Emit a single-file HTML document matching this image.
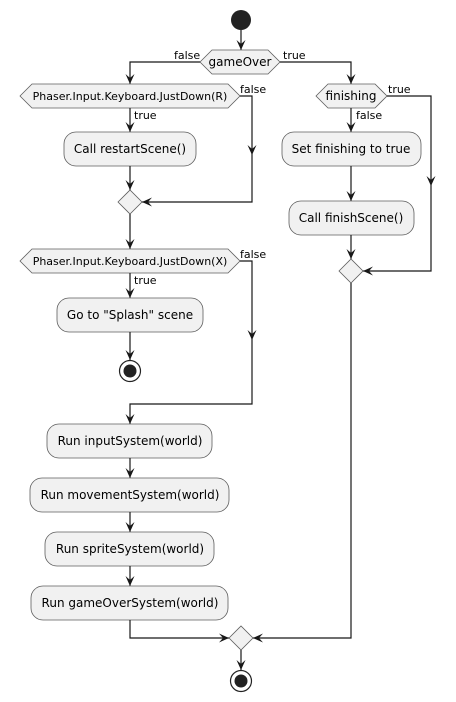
<!DOCTYPE html>
<html><head><meta charset="utf-8"><style>
html,body{margin:0;padding:0;background:#fff;}
svg{display:block;}
text{font-family:"DejaVu Sans","Liberation Sans",sans-serif;fill:#000;}
.b{fill:#F1F1F1;stroke:#5E5E5E;stroke-width:0.8;}
.l{stroke:#181818;stroke-width:1.2;fill:none;}
.t{font-size:12px;text-anchor:middle;}
.s{font-size:11px;}
</style></head><body>
<svg width="456" height="702" viewBox="0 0 456 702" xmlns="http://www.w3.org/2000/svg">
<defs>
<g id="ad"><polygon points="0,0 -4.5,-10 0,-6 4.5,-10" fill="#181818"/></g>
<g id="ar"><polygon points="0,0 10,-4.5 6,0 10,4.5" fill="#181818"/></g>
</defs>
<circle cx="241" cy="20" r="10" fill="#222"/>
<line class="l" x1="241" y1="30" x2="241" y2="50"/><use href="#ad" x="241" y="50"/>
<polygon class="b" points="200,62 212,50 268,50 280,62 268,74 212,74"/>
<text class="t" x="240" y="66">gameOver</text>
<text class="s" x="174" y="59">false</text>
<text class="s" x="283" y="59">true</text>
<polyline class="l" points="200,62 130,62 130,84"/><use href="#ad" x="130" y="84"/>
<polyline class="l" points="280,62 351,62 351,84"/><use href="#ad" x="351" y="84"/>
<polygon class="b" points="20,96 32,84 228,84 240,96 228,108 32,108"/>
<text class="t" x="130" y="100" style="font-size:11px">Phaser.Input.Keyboard.JustDown(R)</text>
<text class="s" x="240" y="93">false</text>
<text class="s" x="134" y="119">true</text>
<line class="l" x1="130" y1="108" x2="130" y2="132"/><use href="#ad" x="130" y="132"/>
<rect class="b" x="64" y="132" width="132" height="34" rx="12"/>
<text class="t" x="130" y="153">Call restartScene()</text>
<polyline class="l" points="240,96 252,96 252,202 142,202"/><use href="#ad" x="252" y="155"/><use href="#ar" x="142" y="202"/>
<line class="l" x1="130" y1="166" x2="130" y2="190"/><use href="#ad" x="130" y="190"/>
<polygon class="b" points="118,202 130,190 142,202 130,214"/>
<line class="l" x1="130" y1="214" x2="130" y2="249"/><use href="#ad" x="130" y="249"/>
<polygon class="b" points="20,261 32,249 228,249 240,261 228,273 32,273"/>
<text class="t" x="130" y="265" style="font-size:11px">Phaser.Input.Keyboard.JustDown(X)</text>
<text class="s" x="240" y="258">false</text>
<text class="s" x="134" y="284">true</text>
<line class="l" x1="130" y1="273" x2="130" y2="298"/><use href="#ad" x="130" y="298"/>
<rect class="b" x="57" y="298" width="146" height="34" rx="12"/>
<text class="t" x="130" y="319">Go to "Splash" scene</text>
<line class="l" x1="130" y1="332" x2="130" y2="360"/><use href="#ad" x="130" y="360"/>
<circle cx="130" cy="371" r="10.5" fill="none" stroke="#222" stroke-width="1.2"/>
<circle cx="130" cy="371" r="6.5" fill="#222"/>
<polyline class="l" points="240,261 252,261 252,404 130,404 130,424"/><use href="#ad" x="252" y="340"/><use href="#ad" x="130" y="424"/>
<rect class="b" x="47" y="424" width="165" height="34" rx="12"/>
<text class="t" x="130" y="445">Run inputSystem(world)</text>
<line class="l" x1="130" y1="458" x2="130" y2="478"/><use href="#ad" x="130" y="478"/>
<rect class="b" x="30" y="478" width="199" height="34" rx="12"/>
<text class="t" x="130" y="499">Run movementSystem(world)</text>
<line class="l" x1="130" y1="512" x2="130" y2="532"/><use href="#ad" x="130" y="532"/>
<rect class="b" x="45" y="532" width="169" height="34" rx="12"/>
<text class="t" x="130" y="553">Run spriteSystem(world)</text>
<line class="l" x1="130" y1="566" x2="130" y2="586"/><use href="#ad" x="130" y="586"/>
<rect class="b" x="31" y="586" width="197" height="34" rx="12"/>
<text class="t" x="130" y="607">Run gameOverSystem(world)</text>
<polyline class="l" points="130,620 130,638 229,638"/><use href="#ar" x="229" y="638" transform="rotate(180 229 638)"/>
<polygon class="b" points="316,96 328,84 375,84 387,96 375,108 328,108"/>
<text class="t" x="351" y="100">finishing</text>
<text class="s" x="388" y="93">true</text>
<text class="s" x="356" y="119">false</text>
<line class="l" x1="351" y1="108" x2="351" y2="132"/><use href="#ad" x="351" y="132"/>
<rect class="b" x="282" y="132" width="139" height="34" rx="12"/>
<text class="t" x="351" y="153">Set finishing to true</text>
<line class="l" x1="351" y1="166" x2="351" y2="201"/><use href="#ad" x="351" y="201"/>
<rect class="b" x="289" y="201" width="125" height="34" rx="12"/>
<text class="t" x="351" y="222">Call finishScene()</text>
<line class="l" x1="351" y1="235" x2="351" y2="259"/><use href="#ad" x="351" y="259"/>
<polyline class="l" points="387,96 431,96 431,271 363,271"/><use href="#ad" x="431" y="186"/><use href="#ar" x="363" y="271"/>
<polygon class="b" points="339,271 351,259 363,271 351,283"/>
<polyline class="l" points="351,283 351,638 253,638"/><use href="#ar" x="253" y="638"/>
<polygon class="b" points="229,638 241,626 253,638 241,650"/>
<line class="l" x1="241" y1="650" x2="241" y2="670"/><use href="#ad" x="241" y="670"/>
<circle cx="241" cy="681" r="10.5" fill="none" stroke="#222" stroke-width="1.2"/>
<circle cx="241" cy="681" r="6.5" fill="#222"/>
</svg>
</body></html>
